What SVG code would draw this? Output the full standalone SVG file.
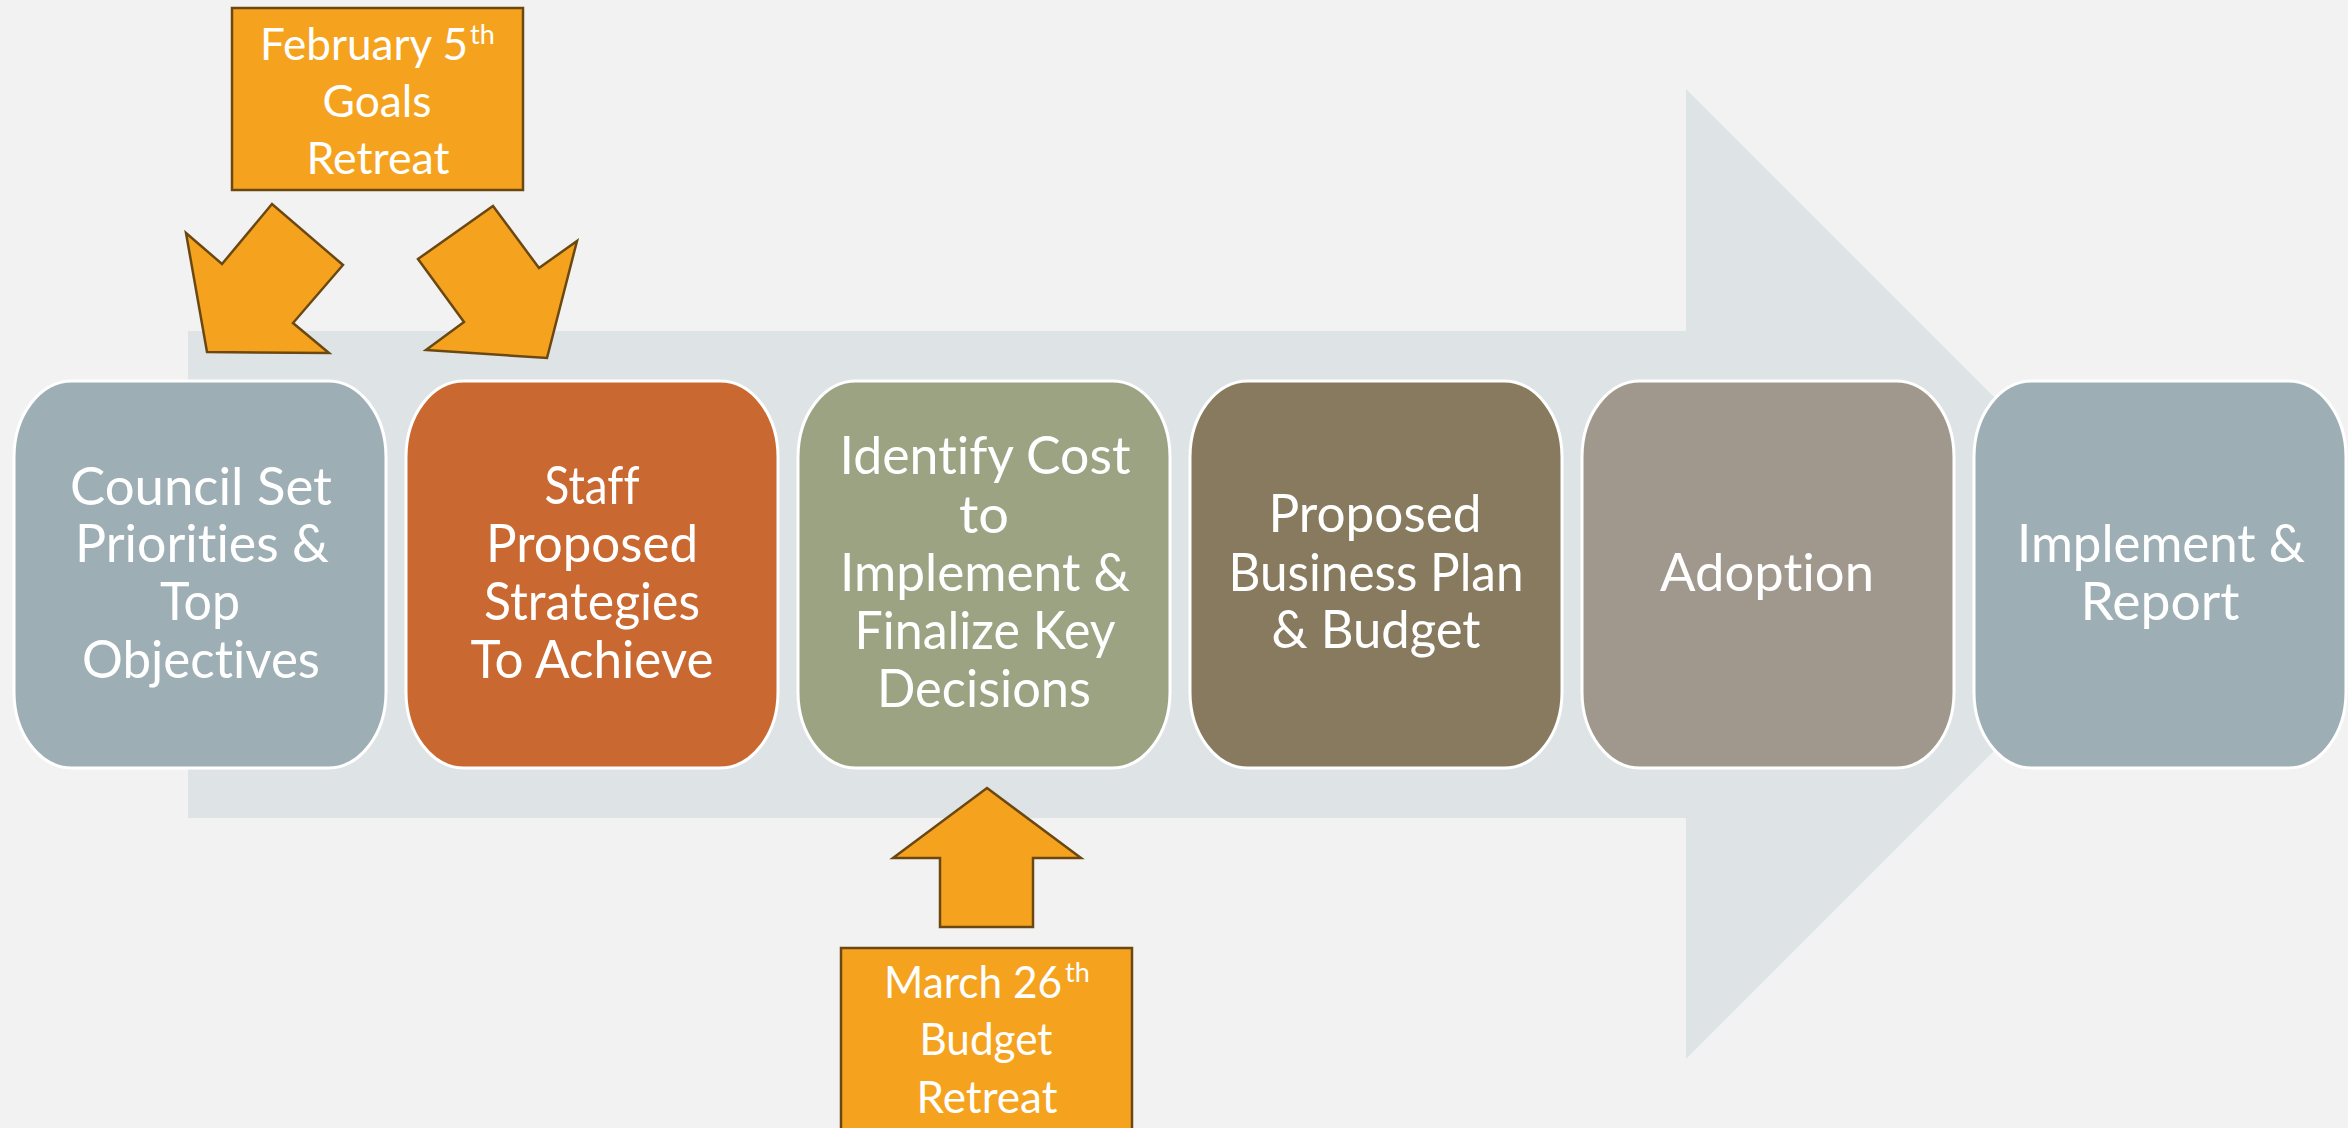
<svg xmlns="http://www.w3.org/2000/svg" width="2348" height="1128" viewBox="0 0 2348 1128">
  <style>
    .step { stroke: #ffffff; stroke-width: 3; }
    .label { font-family: Lato, "Liberation Sans", sans-serif; font-size: 52px; fill: #ffffff; text-anchor: middle; font-variant-ligatures: none; }
    .note { fill: #F5A31F; stroke: #6B4811; stroke-width: 2.5; stroke-linejoin: miter; }
    .notetext { font-family: Lato, "Liberation Sans", sans-serif; font-size: 44px; fill: #ffffff; font-variant-ligatures: none; }
    .sup { font-size: 27px; }
  </style>

  <!-- backdrop -->
  <rect x="0" y="0" width="2348" height="1128" fill="#F2F2F2"/>

  <!-- process arrow behind the steps -->
  <polygon id="flow-arrow" points="188,331 1686,331 1686,89 2171,574 1686,1059 1686,818 188,818" fill="#DEE3E5"/>

  <!-- step boxes -->
  <g id="step-council">
    <rect class="step" x="14" y="381" width="372" height="387" rx="58" ry="76" fill="#9DAFB5"/>
    <text class="label" x="201" y="505" textLength="262" lengthAdjust="spacingAndGlyphs">Council Set</text>
    <text class="label" x="202" y="562" textLength="254" lengthAdjust="spacingAndGlyphs">Priorities &amp;</text>
    <text class="label" x="200" y="620" textLength="80" lengthAdjust="spacingAndGlyphs">Top</text>
    <text class="label" x="201" y="678" textLength="238" lengthAdjust="spacingAndGlyphs">Objectives</text>
  </g>

  <g id="step-staff">
    <rect class="step" x="406" y="381" width="372" height="387" rx="58" ry="76" fill="#C96831"/>
    <text class="label" x="592" y="504" textLength="95" lengthAdjust="spacingAndGlyphs">Staff</text>
    <text class="label" x="592" y="562" textLength="212" lengthAdjust="spacingAndGlyphs">Proposed</text>
    <text class="label" x="592" y="620" textLength="216" lengthAdjust="spacingAndGlyphs">Strategies</text>
    <text class="label" x="592" y="678" textLength="243" lengthAdjust="spacingAndGlyphs">To Achieve</text>
  </g>

  <g id="step-cost">
    <rect class="step" x="798" y="381" width="372" height="387" rx="58" ry="76" fill="#9CA383"/>
    <text class="label" x="985" y="474" textLength="291" lengthAdjust="spacingAndGlyphs">Identify Cost</text>
    <text class="label" x="984" y="533" textLength="50" lengthAdjust="spacingAndGlyphs">to</text>
    <text class="label" x="985" y="591" textLength="290" lengthAdjust="spacingAndGlyphs">Implement &amp;</text>
    <text class="label" x="985" y="649" textLength="261" lengthAdjust="spacingAndGlyphs">Finalize Key</text>
    <text class="label" x="984" y="707" textLength="214" lengthAdjust="spacingAndGlyphs">Decisions</text>
  </g>

  <g id="step-business-plan">
    <rect class="step" x="1190" y="381" width="372" height="387" rx="58" ry="76" fill="#877A5E"/>
    <text class="label" x="1375" y="532" textLength="213" lengthAdjust="spacingAndGlyphs">Proposed</text>
    <text class="label" x="1376" y="591" textLength="295" lengthAdjust="spacingAndGlyphs">Business Plan</text>
    <text class="label" x="1376" y="648" textLength="209" lengthAdjust="spacingAndGlyphs">&amp; Budget</text>
  </g>

  <g id="step-adoption">
    <rect class="step" x="1582" y="381" width="372" height="387" rx="58" ry="76" fill="#A0988C"/>
    <text class="label" x="1767" y="591" textLength="214" lengthAdjust="spacingAndGlyphs">Adoption</text>
  </g>

  <g id="step-implement">
    <rect class="step" x="1974" y="381" width="372" height="387" rx="58" ry="76" fill="#9DAFB5"/>
    <text class="label" x="2161" y="562" textLength="288" lengthAdjust="spacingAndGlyphs">Implement &amp;</text>
    <text class="label" x="2160" y="620" textLength="159" lengthAdjust="spacingAndGlyphs">Report</text>
  </g>

  <!-- retreat callouts -->
  <g id="goals-retreat">
    <rect class="note" x="232" y="8" width="291" height="182"/>
    <text class="notetext" y="60"><tspan x="260" textLength="208" lengthAdjust="spacingAndGlyphs">February 5</tspan><tspan class="sup" x="470" y="44">th</tspan></text>
    <text class="notetext" x="377" y="117" text-anchor="middle" textLength="109" lengthAdjust="spacingAndGlyphs">Goals</text>
    <text class="notetext" x="378" y="174" text-anchor="middle" textLength="143" lengthAdjust="spacingAndGlyphs">Retreat</text>
  </g>

  <g id="budget-retreat">
    <rect class="note" x="841" y="948" width="291" height="190"/>
    <text class="notetext" y="998"><tspan x="884" textLength="178" lengthAdjust="spacingAndGlyphs">March 26</tspan><tspan class="sup" x="1065" y="982">th</tspan></text>
    <text class="notetext" x="986" y="1055" text-anchor="middle" textLength="133" lengthAdjust="spacingAndGlyphs">Budget</text>
    <text class="notetext" x="987" y="1113" text-anchor="middle" textLength="141" lengthAdjust="spacingAndGlyphs">Retreat</text>
  </g>

  <!-- callout arrows -->
  <g id="connectors">
    <polygon class="note" points="186,233 222,264 272,204 343,265 293,323 329,353 207,352"/>
    <polygon class="note" points="418,259 493,206 539,268 577,241 547,358 426,350 464,322"/>
    <polygon class="note" points="987,788 1081,858 1033,858 1033,927 940,927 940,858 893,858"/>
  </g>
</svg>
